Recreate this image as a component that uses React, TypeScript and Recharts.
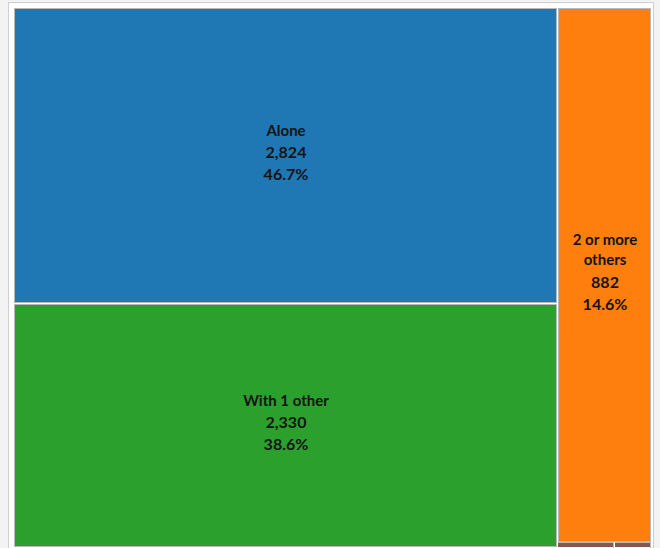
import { Treemap } from 'recharts';

const categories = ['Alone', 'With 1 other', '2 or more others', 'Unknown', 'Not stated'];
const counts = [2824, 2330, 882, 5, 3];
const colors = ['#1f77b4', '#2ca02c', '#ff7f0e', '#8c564b', '#8c564b'];

const total = counts.reduce((a, b) => a + b, 0);
const data = categories.map((name, i) => ({ name, value: counts[i] }));

const FONT = 'Lato, sans-serif';
const NAME_SIZE = 15;
const VALUE_SIZE = 16;

const wrapText = (text: string, maxWidth: number) => {
  const words = text.split(' ');
  const lines: string[] = [];
  let cur = '';
  words.forEach((w) => {
    const next = cur ? cur + ' ' + w : w;
    if (cur && next.length * NAME_SIZE * 0.52 > maxWidth) {
      lines.push(cur);
      cur = w;
    } else {
      cur = next;
    }
  });
  if (cur) lines.push(cur);
  return lines;
};

const Cell = (props: any) => {
  const { x, y, width, height, depth, name, value } = props;
  if (depth !== 1) return null;
  const x0 = Math.round(x);
  const y0 = Math.round(y);
  const x1 = Math.round(x + width);
  const y1 = Math.round(y + height);
  const color = colors[categories.indexOf(name)];
  const thin = y1 - y0 < 10;
  const showLabel = x1 - x0 > 60 && y1 - y0 > 80;
  const nameLines = showLabel ? wrapText(name, x1 - x0 - 10) : [];
  const lines = showLabel
    ? [
        ...nameLines.map((t) => ({ t, size: NAME_SIZE, gap: 20 })),
        { t: value.toLocaleString('en-US'), size: VALUE_SIZE, gap: 22 },
        { t: ((value / total) * 100).toFixed(1) + '%', size: VALUE_SIZE, gap: 22 },
      ]
    : [];
  // offsets of each line, then centre the block a little above the middle
  const offsets: number[] = [];
  let acc = 0;
  lines.forEach((l, i) => {
    if (i > 0) acc += l.gap;
    offsets.push(acc);
  });
  const cx = (x0 + x1) / 2;
  const top = (y0 + y1) / 2 - 4.5 - acc / 2;
  return (
    <g>
      {thin ? (
        <>
          <rect x={x0} y={y0 - 1} width={Math.max(x1 - x0 - 1, 0)} height={y1 - y0} fill={color} />
          <line x1={x0} x2={x1 - 1} y1={y0 - 0.5} y2={y0 - 0.5} stroke="#b9b9b9" />
          <line x1={x1 - 1.5} x2={x1 - 1.5} y1={y0 - 1} y2={y1} stroke="#b9b9b9" />
        </>
      ) : (
        <rect
          x={x0 + 0.5}
          y={y0 + 0.5}
          width={Math.max(x1 - x0 - 2, 0)}
          height={Math.max(y1 - y0 - 2, 0)}
          fill={color}
          stroke="#b9b9b9"
          strokeWidth={1}
        />
      )}
      {lines.map((line, i) => (
        <text
          key={i}
          x={cx}
          y={top + offsets[i]}
          textAnchor="middle"
          dominantBaseline="central"
          fontFamily={FONT}
          fontWeight="bold"
          fontSize={line.size}
          fill="#141414"
        >
          {line.t}
        </text>
      ))}
    </g>
  );
};

export default function App() {
  return (
    <div style={{ position: 'fixed', left: 0, top: 0, width: 660, height: 548, background: '#f3f3f3', overflow: 'hidden' }}>
      <div
        style={{
          position: 'absolute',
          left: 8,
          top: 2,
          width: 644,
          height: 560,
          background: '#fff',
          border: '1px solid #cfcfcf',
        }}
      />
      <div style={{ position: 'absolute', left: 14, top: 8 }}>
        <Treemap
          width={638}
          height={540}
          data={data}
          dataKey="value"
          nameKey="name"
          content={<Cell />}
          isAnimationActive={false}
        />
      </div>
    </div>
  );
}
